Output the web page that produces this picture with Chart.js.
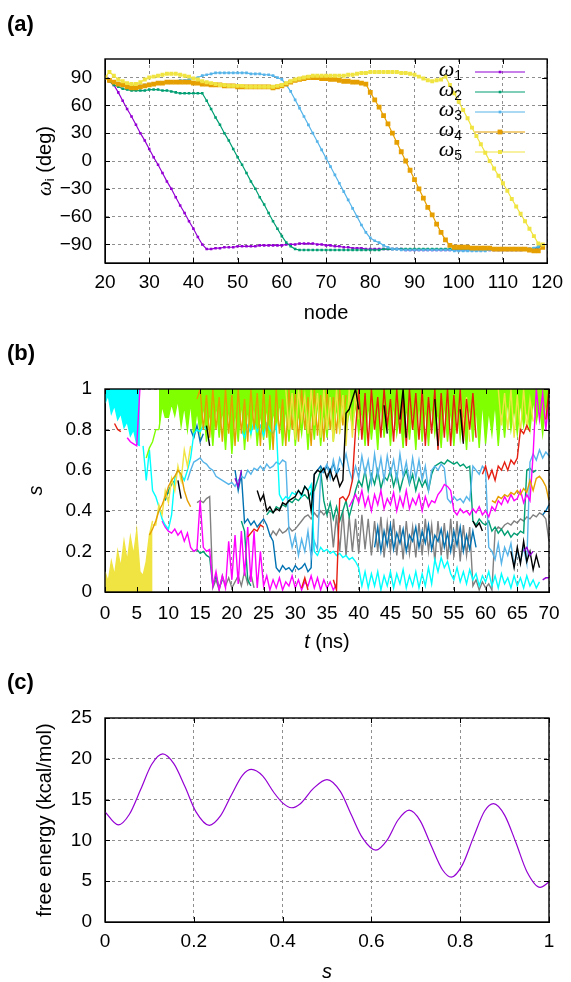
<!DOCTYPE html>
<html>
<head>
<meta charset="utf-8">
<script src="https://cdn.jsdelivr.net/npm/chart.js@4.4.0/dist/chart.umd.min.js"></script>
<style>
  body { margin: 0; background: #fff; }
  #page { position: relative; width: 571px; height: 982px; font-family: 'Liberation Sans', Arial, sans-serif; }
  canvas { position: absolute; left: 0; }
  .tag { position: absolute; left: 7px; font-weight: bold; font-size: 22px; line-height: 26px; }
</style>
</head>
<body>
<div id="page">
  <canvas id="chartA" style="top:0" width="571" height="330"></canvas>
  <canvas id="chartB" style="top:330px" width="571" height="330"></canvas>
  <canvas id="chartC" style="top:660px" width="571" height="322"></canvas>
  <div class="tag" style="top:11px">(a)</div>
  <div class="tag" style="top:340px">(b)</div>
  <div class="tag" style="top:669px">(c)</div>
</div>
<script>
// ---- panel (a): omega_i along the string nodes ----
let nodes = [20,21,22,23,24,25,26,27,28,29, 30,31,32,33,34,35,36,37,38,39,
  40,41,42,43,44,45,46,47,48,49, 50,51,52,53,54,55,56,57,58,59,
  60,61,62,63,64,65,66,67,68,69, 70,71,72,73,74,75,76,77,78,79,
  80,81,82,83,84,85,86,87,88,89, 90,91,92,93,94,95,96,97,98,99,
  100,101,102,103,104,105,106,107,108,109, 110,111,112,113,114,115,116,117,118,119];

let omega1 = [90,86,82,74,65,56,48,39,30,22, 13,4,-4,-13,-22,-30,-39,-48,-56,-65,
  -73,-82,-90,-95,-95,-94,-94,-93,-93,-93, -92,-92,-92,-92,-92,-91,-91,-91,-91,-91,
  -91,-90,-90,-90,-89,-89,-89,-89,-90,-90, -91,-91,-92,-92,-93,-93,-94,-94,-94,-95,
  -95,-95,-95,-95,-95,-95,-95,-95,-96,-96, -96,-96,-96,-96,-96,-96,-96,-96,-96,-96,
  -96,-96,-96,-96,-96,-96,-96,-96,-96,-96, -96,-96,-96,-96,-96,-95,-95,-95,-93,-90];
let omega2 = [90,86,82,80,78,77,76,76,76,76, 77,77,77,76,76,75,74,73,73,73,
  73,73,73,65,56,47,39,30,22,13, 4,-4,-13,-22,-30,-39,-47,-56,-65,-73,
  -81,-88,-92,-95,-96,-96,-96,-96,-96,-96, -96,-96,-96,-96,-96,-96,-96,-96,-96,-96,
  -96,-96,-96,-95,-95,-95,-95,-95,-95,-95, -95,-95,-95,-95,-95,-95,-95,-95,-95,-95,
  -95,-95,-95,-95,-95,-95,-95,-95,-95,-95, -95,-95,-95,-95,-95,-95,-95,-94,-93,-90];
let omega3 = [90,88,86,84,83,82,81,81,81,82, 83,83,84,84,85,85,86,87,87,88,
  89,90,92,93,94,95,95,95,95,95, 95,95,95,94,94,94,93,93,92,90,
  88,82,75,66,57,48,39,30,21,12, 3,-6,-15,-24,-33,-42,-51,-60,-69,-77,
  -83,-86,-88,-91,-93,-95,-95,-96,-96,-96, -96,-96,-96,-96,-96,-96,-96,-96,-96,-97,
  -97,-97,-97,-97,-97,-97,-97,-96,-96,-96, -96,-96,-96,-96,-96,-95,-95,-94,-92,-90];
let omega4 = [90,87,85,83,82,80,79,79,80,81, 82,83,84,84,85,85,85,85,85,85,
  84,84,83,83,82,82,82,81,81,81, 80,80,80,80,80,80,80,80,79,80,
  81,83,85,87,88,89,90,90,90,89, 89,88,88,87,86,86,85,85,84,83,
  74,66,58,49,40,30,20,10,0,-10, -20,-30,-40,-50,-58,-68,-77,-85,-91,-93,
  -93,-93,-93,-94,-94,-94,-94,-94,-95,-95, -95,-95,-95,-95,-95,-95,-96,-97,-97,-93];
let omega5 = [90,96,92,88,86,84,83,83,85,88, 90,91,92,93,94,94,94,93,92,91,
  89,88,86,85,84,83,82,82,81,81, 81,81,80,80,80,80,80,80,80,81,
  82,84,86,88,89,90,91,92,92,92, 92,92,92,92,92,93,93,94,95,95,
  96,96,96,96,96,96,96,95,95,94, 93,91,89,87,86,87,88,91,82,73,
  64,55,46,36,27,18,9,0,-8,-16, -24,-32,-41,-49,-57,-65,-73,-81,-89,-90];
let omegaNames = ['ω1', 'ω2', 'ω3', 'ω4', 'ω5'];
let omegaColors = ['#9400d3', '#009e73', '#56b4e9', '#e69f00', '#f0e442'];
let omegaMarks = [1.8, 1.8, 1.9, 3.4, 2.8];
let nodeTicks = [20,30,40,50,60,70,80,90,100,110,120];
let degTicks = [-90,-60,-30,0,30,60,90];

// ---- panel (b): s of each replica vs time (values past the end of an array are gaps) ----
let timeNs = [0,0.5,1,1.5,2,2.5,3,3.5,4,4.5, 5,5.5,6,6.5,7,7.5,8,8.5,9,9.5,
  10,10.5,11,11.5,12,12.5,13,13.5,14,14.5, 15,15.5,16,16.5,17,17.5,18,18.5,19,19.5,
  20,20.5,21,21.5,22,22.5,23,23.5,24,24.5, 25,25.5,26,26.5,27,27.5,28,28.5,29,29.5,
  30,30.5,31,31.5,32,32.5,33,33.5,34,34.5, 35,35.5,36,36.5,37,37.5,38,38.5,39,39.5,
  40,40.5,41,41.5,42,42.5,43,43.5,44,44.5, 45,45.5,46,46.5,47,47.5,48,48.5,49,49.5,
  50,50.5,51,51.5,52,52.5,53,53.5,54,54.5, 55,55.5,56,56.5,57,57.5,58,58.5,59,59.5,
  60,60.5,61,61.5,62,62.5,63,63.5,64,64.5, 65,65.5,66,66.5,67,67.5,68,68.5,69,69.5, 70];

let sYellowBase = [0.1,0.05,0.15,0.08,0.2,0.12,0.25,0.15,0.27,0.18, 0.3,0.1,0.08,0.15,0.28,0.35];
let sYellowRise = [null,null,null,null,null,null,null,null,null,null,
  null,null,null,null,null,0.33,0.33,0.43,0.38,0.5,
  0.44,0.56,0.5,0.62,0.55,0.7,0.62,0.72];
let sYellowTop = [null,null,null,null,null,null,null,null,null,null,
  null,null,null,null,null,null,null,null,null,null,
  null,null,null,null,null,null,null,null,null,null,
  null,null,null,null,null,null,null,null,null,null,
  null,null,null,null,null,null,null,null,null,null,
  null,null,null,null,null,null,null,1,0.8,0.98,
  0.75,1,0.85,0.97,0.78,1,0.82,0.98,0.76,1,
  0.8,0.96,0.74,1,0.78,0.97,0.72,1,0.76,0.98,
  0.85,null,null,null,null,null,null,null,null,null,
  null,null,null,null,null,null,null,null,null,null,
  null,null,null,null,null,null,null,null,null,null,
  null,null,1,0.8,0.96,0.74,null,null,null,null,
  null,null,null,null,1,0.82,0.98,0.8,1,0.76,
  0.97,0.78,1,0.8,0.95,0.84];
let sOrange = [null,null,null,null,null,null,null,null,null,null,
  null,null,null,null,0.28,0.31,0.35,0.4,0.43,0.47,
  0.52,0.55,0.57,0.6,0.58,0.5,0.45,0.42,null,0.95,
  1,0.8,0.97,0.76,1,0.8,0.96,0.74,1,0.78,
  0.97,0.72,1,0.78,0.95,0.74,1,0.8,0.98,0.72,
  1,0.76,0.97,0.7,1,0.78,0.95,0.72,1,0.8,
  0.98,0.74,1,0.8,0.96,0.72,1,0.77,0.97,0.74,
  1,0.8,0.96,0.78,1,0.82,0.97,null,null,null,
  null,null,null,null,null,null,null,null,null,null,
  null,null,null,null,null,null,null,null,null,null,
  null,null,null,null,null,null,null,null,null,null,
  null,null,null,null,null,null,null,null,null,null,
  null,null,0.45,0.44,0.47,0.46,0.48,0.47,0.49,0.48,
  0.5,0.48,0.51,0.49,0.55,0.5,0.56,0.57,0.55,0.52, 0.45];
let sLimeStrand = [null,null,null,null,null,null,null,null,null,null,
  null,null,null,0.66,0.71,0.74,0.8,0.8];
let sLime = [null,null,null,null,null,null,null,null,null,null,
  null,null,null,null,null,null,null,0.8,0.92,0.86,
  0.86,0.93,0.87,0.95,0.82,0.92,0.8,0.94,0.76,0.9,
  0.78,0.93,0.74,0.9,0.72,0.94,0.76,0.91,0.7,0.93,
  0.68,0.9,0.74,0.95,0.7,0.91,0.78,0.94,0.72,0.89,
  0.75,0.93,0.7,0.9,0.8,0.95,0.72,0.92,0.74,0.94,
  0.72,0.89,0.78,0.93,0.7,0.91,0.75,0.95,0.72,0.9,
  0.76,0.94,0.74,0.92,0.8,0.95,0.78,0.9,0.82,0.93,
  0.78,0.91,0.72,0.94,0.75,0.9,0.7,0.95,0.76,0.92,
  0.72,0.94,0.78,0.89,0.71,0.93,0.75,0.91,0.7,0.95,
  0.74,0.92,0.72,0.94,0.78,0.9,0.71,0.95,0.74,0.91,
  0.72,0.93,0.76,0.9,0.7,0.94,0.74,0.92,0.71,0.95,
  0.73,0.9,0.78,0.94,0.72,0.92,0.76,0.95,0.8,0.91,
  0.78,0.94,0.82,0.9,0.8,0.95,0.84,0.92,0.78,0.94, 0.85];
let sGrey = [null,null,null,null,null,null,null,null,null,null,
  null,null,null,null,null,null,null,null,null,null,
  null,null,null,null,null,null,null,null,null,0.44,
  0.45,0.44,0.46,0.47,0.02,0.06,0.01,0.08,0.03,0.07,
  0.02,0.05,0.08,0.03,0.1,0.04,0.09,0.02,null,null,
  null,null,0.27,0.3,0.28,0.31,0.29,0.3,0.32,0.3,
  0.31,0.33,0.35,0.37,0.38,0.36,0.39,0.37,0.4,0.38,
  0.4,0.39,0.22,0.38,0.2,0.4,0.18,0.37,0.2,0.36,
  0.19,0.38,0.21,0.36,0.18,0.35,0.2,0.37,0.17,0.34,
  0.2,0.36,0.18,0.33,0.16,0.35,0.19,0.32,0.17,0.34,
  0.18,0.36,0.2,0.33,0.15,0.35,0.18,0.34,0.16,0.36,
  0.17,0.35,0.15,0.33,0.18,0.32,0.03,0.06,0.01,0.05,
  0.02,0.04,0.01,0.3,0.32,0.31,0.33,0.34,0.33,0.35,
  0.34,0.36,0.35,0.37,0.36,0.38,0.37,0.39,0.38,0.36, 0.25];
let sDarkBlue = [null,null,null,null,null,null,null,null,null,null,
  null,null,null,null,null,null,null,null,null,null,
  null,null,null,null,null,null,null,0.8,0.76,0.82,
  0.74,0.78,null,null,null,null,null,null,null,null,
  null,0.6,0.5,0.58,0.34,0.36,0.33,0.35,0.32,0.34,
  0.36,0.33,0.28,0.25,0.12,0.1,0.13,0.11,0.12,0.1,
  0.13,0.11,0.12,0.14,0.1,0.12,0.58,0.6,0.62,0.59,
  0.62,0.6,0.63,0.58,0.61,null,null,null,null,null,
  null,null,null,null,null,0.22,0.32,0.2,0.3,0.23,
  0.33,0.21,0.29,0.24,0.31,0.2,0.28,0.25,0.32,0.22,
  0.3,0.24,0.33,0.21,0.28,0.25,0.31,0.22,0.29,0.2,
  0.3,0.23,0.32,0.2,0.28,0.21,0.3,0.22,null,null,
  null,null,null,null,null,null,null,null,null,null,
  null,null,null,null,null,null,null,null,0.38,0.4, 0.43];
let sTeal = [null,null,null,null,null,null,null,null,null,null,
  null,null,null,null,null,null,null,null,null,0.45,
  0.5,0.53,0.55,null,null,null,null,null,0.2,0.21,
  0.19,0.2,0.18,0.17,0.03,0.08,0.02,0.06,null,null,
  null,null,null,0.35,0.3,0.06,0.03,null,null,null,
  null,0.38,0.4,0.39,0.42,0.41,0.43,0.42,0.45,0.44,
  0.46,0.45,0.47,0.48,0.46,0.49,0.5,0.55,0.6,0.45,
  0.38,0.44,0.36,0.42,0.35,0.4,0.45,0.37,0.43,0.5,
  0.55,0.52,0.6,0.5,0.58,0.53,0.6,0.51,0.57,0.55,
  0.6,0.52,0.58,0.5,0.56,0.6,0.53,0.58,0.5,0.56,
  0.52,0.55,0.5,0.58,0.62,0.63,0.64,0.63,0.65,0.64,
  0.63,0.64,0.62,0.63,0.61,0.62,0.35,0.33,0.36,0.34,
  0.33,0.35,0.3,0.32,0.29,0.31,0.28,0.3,0.27,0.29,
  0.28,0.3,0.29,0.6,0.61,0.59,0.6];
let sLightBlue = [null,null,null,null,null,null,null,null,null,null,
  null,null,null,null,null,null,null,null,null,null,
  null,null,null,null,null,null,0.55,0.6,0.64,0.65,
  0.66,0.64,0.63,0.61,0.6,0.57,0.56,0.55,0.54,0.53,
  0.54,0.52,0.55,0.57,0.56,0.6,0.58,0.61,0.6,0.62,
  0.6,0.63,0.61,0.62,0.64,0.63,0.65,0.64,0.3,0.22,
  0.28,0.18,0.26,0.2,0.3,0.17,0.25,0.21,0.58,0.6,
  0.63,0.56,0.65,0.58,0.66,0.62,0.68,0.6,0.55,0.62,
  0.56,0.67,0.58,0.65,0.54,0.68,0.57,0.66,0.55,0.67,
  0.58,0.65,0.55,0.68,0.57,0.64,0.54,0.66,0.56,0.65,
  0.55,0.62,0.5,0.6,0.62,0.6,0.63,0.61,0.46,0.44,
  0.47,0.45,0.46,0.44,0.47,0.45,0.62,0.6,0.58,0.62,
  0.6,0.22,0.2,0.16,0.24,0.14,0.22,0.18,0.24,0.13,
  0.2,0.15,0.22,0.14,0.64,0.68,0.65,0.7,0.66,0.69, 0.67];
let sMagenta = [null,null,null,null,null,null,null,0.76,0.74,0.73,
  0.72,1,null,null,null,null,null,null,0.35,0.32,
  0.3,0.29,0.31,0.28,0.3,0.25,0.29,0.22,0.2,0.21,
  0.45,0.22,0.2,0.21,0.03,0.1,0.01,0.08,0.02,0.25,
  0.06,0.28,0.04,0.3,0.08,0.32,0.05,0.3,0.02,0.2,
  0.03,0.08,0.01,0.06,0.02,0.07,0.01,0.05,0.03,0.08,
  0.02,0.06,0.01,0.05,0.03,0.08,0.02,0.07,0.01,0.06,
  0.02,0.05,0.01,0.04,null,null,null,0.42,0.45,0.48,
  0.44,0.5,0.42,0.47,0.4,0.48,0.43,0.5,0.41,0.46,
  0.43,0.49,0.4,0.47,0.42,0.5,0.41,0.46,0.43,0.48,
  0.4,0.47,0.42,0.45,0.44,0.48,0.5,0.53,0.52,0.5,
  0.4,0.38,0.41,0.39,0.4,0.38,0.41,0.39,0.42,0.38,
  0.4,0.37,0.42,0.4,0.45,0.43,0.47,0.44,0.48,0.45,
  0.46,0.5,0.44,0.48,0.45,0.68,1,0.85,0.98,0.8, 0.95];
let sCyanTop = [0.93,0.97,0.88,0.92,0.85,0.88,0.81,0.84,0.77,0.8, 0.73,0.72];
let sCyan = [null,null,null,null,null,null,null,null,null,null,
  null,null,0.72,0.55,0.7,0.5,0.47,0.42,0.36,0.33,
  0.31,0.38,0.56,0.6,0.58,0.55,0.6,0.66,0.78,0.8,
  0.79,0.82,0.8,null,null,null,null,null,null,null,
  null,null,null,0.8,0.76,0.82,0.78,0.84,0.79,0.82,
  0.77,0.83,0.8,0.78,0.82,0.48,0.45,0.47,0.46,0.49,
  0.48,0.5,0.47,0.52,0.5,0.53,0.2,0.18,0.22,0.2,
  0.21,0.19,0.2,0.18,0.19,0.17,0.18,0.16,0.17,0.15,
  0.12,0.03,0.1,0.02,0.09,0.03,0.1,0.01,0.08,0.03,
  0.1,0.02,0.09,0.04,0.11,0.02,0.08,0.03,0.1,0.02,
  0.09,0.03,0.12,0.04,0.16,0.1,0.17,0.12,0.15,0.09,
  0.06,0.12,0.05,0.1,0.04,0.11,0.06,0.09,0.03,0.08,
  0.05,0.1,0.03,0.08,0.02,0.09,0.04,0.07,0.02,0.08,
  0.03,0.07,0.02,0.08,0.03,0.06,0.02,0.05];
let sRed = [null,null,null,0.83,0.8,0.79,null,null,null,null,
  null,null,null,null,null,null,null,null,null,null,
  null,null,null,null,null,null,null,null,null,null,
  null,null,null,null,null,null,null,null,null,null,
  null,null,null,null,null,0.27,0.29,0.31,0.3,0.33,
  0.32,null,null,null,null,null,null,null,null,null,
  null,null,0.02,0.07,0.01,null,null,null,null,null,
  null,null,0.06,0.01,0.46,0.47,0.45,0.48,0.55,0.8,
  1,0.75,0.98,0.72,1,0.8,0.96,0.76,1,0.82,
  0.95,0.74,1,0.78,0.97,0.72,1,0.8,0.98,0.75,
  1,0.72,0.96,0.78,1,0.7,0.98,0.76,1,0.72,
  0.97,0.78,1,0.74,0.95,0.8,0.98,0.76,null,0.58,
  0.62,0.56,0.6,0.55,0.62,0.6,0.64,0.6,0.65,0.63,
  0.66,0.8,0.78,0.82,0.79,null,null,null,null,0.85, 1];
let sBlack = [null,null,null,null,null,null,null,null,null,null,
  null,null,null,null,null,null,null,null,null,null,
  null,null,null,0.55,0.46,null,null,null,null,null,
  null,null,0.82,0.72,null,null,null,null,null,null,
  null,null,null,null,null,null,null,null,0.5,0.45,
  0.48,0.4,0.42,0.39,0.41,0.4,0.44,0.43,0.45,0.46,
  0.47,0.5,0.48,0.52,0.5,0.4,0.58,0.6,0.59,0.61,
  0.56,0.6,0.55,0.58,0.52,0.55,0.88,0.9,0.95,1,
  0.9,null,null,null,null,null,null,null,0.92,0.78,
  null,null,null,0.85,1,0.76,null,null,null,null,
  null,null,null,null,0.95,0.72,null,null,null,null,
  null,null,0.9,0.73,null,null,0.35,0.32,0.34,0.3,
  null,null,null,null,null,null,null,null,0.2,0.12,
  0.22,0.14,0.25,0.15,0.2,0.11,0.18,0.12];
let sPurple = [null,null,null,null,null,null,null,null,null,null,
  null,null,null,null,null,null,null,null,null,null,
  null,null,null,null,null,null,null,null,null,null,
  null,null,null,null,null,null,null,null,null,null,
  null,0.56,0.52,0.6,null,null,null,null,null,null,
  null,null,null,null,null,null,null,null,null,null,
  null,null,null,null,null,null,null,null,null,null,
  null,null,null,null,null,null,null,null,null,null,
  null,null,null,null,null,null,null,null,null,null,
  null,null,null,null,null,null,null,null,null,null,
  null,null,null,null,null,null,null,null,null,null,
  null,null,null,null,null,null,null,null,null,null,
  null,null,null,null,null,null,null,null,null,null,
  null,null,0.2,0.22,0.18,0.2,null,null,0.06,0.07, 0.07];
let timeTicks = [0,5,10,15,20,25,30,35,40,45,50,55,60,65,70];
let sTicks = [0,0.2,0.4,0.6,0.8,1];

// ---- panel (c): free energy profile along s ----
let feS = [0,0.03,0.055,0.08,0.105,0.13,0.155,0.18,0.205,0.235,0.26,0.285,0.31,0.33,0.355,0.38,0.4,0.42,0.44,0.47,
  0.5,0.53,0.555,0.58,0.61,0.635,0.66,0.685,0.71,0.735,0.76,0.78,0.805,0.83,0.855,0.875,0.9,0.925,0.95,0.98,1];
let feKcal = [13.5,11.9,13.2,16.2,19.3,20.6,19.4,16.6,13.5,11.85,13.0,15.6,18.0,18.7,17.9,15.9,14.6,14.0,14.5,16.4,
  17.45,16.0,13.1,10.3,8.8,10.0,12.5,13.7,12.4,9.3,6.4,5.5,7.0,10.4,13.6,14.5,13.1,9.8,6.2,4.25,4.9];
let feTicks = [0,5,10,15,20,25];
let sAxisTicks = [0,0.2,0.4,0.6,0.8,1];

let fam = "'Liberation Sans', Arial, sans-serif";
Chart.defaults.font.family = fam;
Chart.defaults.font.size = 19;
Chart.defaults.color = '#000';
let gridColor = '#8f8f8f';
let titleFont = '20px ' + fam;
let titleItalic = 'italic 20px ' + fam;

let fmt = v => String(v).replace('-', '\u2212');

function drawRuns(ctx, runs, x, y, rot, align) {
    ctx.save();
    ctx.translate(x, y);
    if (rot) ctx.rotate(rot);
    ctx.fillStyle = '#000';
    ctx.textBaseline = 'middle';
    ctx.textAlign = 'left';
    let w = 0;
    runs.forEach(r => { ctx.font = r.font; w += ctx.measureText(r.text).width; });
    let cx = align === 'right' ? -w : -w / 2;
    runs.forEach(r => {
        ctx.font = r.font;
        ctx.fillText(r.text, cx, r.dy || 0);
        cx += ctx.measureText(r.text).width;
    });
    ctx.restore();
}

// gnuplot look: closed frame, inward ticks, own axis titles and key
let decor = {
    id: 'decor',
    afterDatasetsDraw(chart, args, opts) {
        let ctx = chart.ctx;
        let a = chart.chartArea;
        let sx = chart.scales.x, sy = chart.scales.y;
        ctx.save();
        ctx.strokeStyle = '#000';
        ctx.lineWidth = 1;
        ctx.beginPath();
        sx.ticks.forEach(t => {
            let px = Math.round(sx.getPixelForValue(t.value)) + 0.5;
            ctx.moveTo(px, a.bottom); ctx.lineTo(px, a.bottom - 5);
            ctx.moveTo(px, a.top); ctx.lineTo(px, a.top + 5);
        });
        sy.ticks.forEach(t => {
            let py = Math.round(sy.getPixelForValue(t.value)) + 0.5;
            ctx.moveTo(a.left, py); ctx.lineTo(a.left + 5, py);
            ctx.moveTo(a.right, py); ctx.lineTo(a.right - 5, py);
        });
        ctx.stroke();
        ctx.lineWidth = 1.4;
        ctx.strokeRect(a.left, a.top, a.right - a.left, a.bottom - a.top);

        if (opts.legend) {
            chart.data.datasets.forEach((ds, i) => {
                let yy = 72 + i * 20;
                drawRuns(ctx, [
                    { text: 'ω', font: "italic 22px 'Liberation Serif', serif" },
                    { text: ds.label.slice(1), font: '14px ' + fam, dy: 6 }
                ], 462, yy - 2, 0, 'right');
                ctx.strokeStyle = ds.borderColor;
                ctx.lineWidth = 1.2;
                ctx.beginPath();
                ctx.moveTo(475, yy); ctx.lineTo(525, yy);
                ctx.stroke();
                let r = ds.pointRadius * Math.SQRT1_2;
                ctx.fillStyle = ds.borderColor;
                ctx.fillRect(500 - r, yy - r, 2 * r, 2 * r);
            });
        }
        drawRuns(ctx, opts.xTitle, (a.left + a.right) / 2, opts.xTitleY, 0, 'center');
        drawRuns(ctx, opts.yTitle, opts.yTitleX, (a.top + a.bottom) / 2, -Math.PI / 2, 'center');
        ctx.restore();
    }
};
Chart.register(decor);

function xScale(min, max, tickVals, pad, height) {
    return {
        type: 'linear', min: min, max: max,
        afterBuildTicks: s => { s.ticks = tickVals.map(v => ({ value: v })); },
        afterFit: s => { s.height = height; },
        ticks: { padding: pad, autoSkip: false, maxRotation: 0, callback: fmt },
        grid: { color: gridColor, drawTicks: false },
        border: { display: true, color: '#000', dash: [3, 3] }
    };
}
function yScale(min, max, tickVals) {
    return {
        type: 'linear', min: min, max: max,
        afterBuildTicks: s => { s.ticks = tickVals.map(v => ({ value: v })); },
        afterFit: s => { s.width = 105; },
        ticks: { padding: 13, autoSkip: false, callback: fmt },
        grid: { color: gridColor, drawTicks: false },
        border: { display: true, color: '#000', dash: [3, 3] }
    };
}
function baseOptions(pad, scales, decorOpts) {
    return {
        responsive: false,
        animation: false,
        devicePixelRatio: 1,
        layout: { padding: pad },
        scales: scales,
        plugins: { legend: { display: false }, tooltip: { enabled: false }, decor: decorOpts }
    };
}

// (a)
let omegaSeries = [omega1, omega2, omega3, omega4, omega5];
new Chart(document.getElementById('chartA'), {
    type: 'line',
    data: {
        datasets: omegaSeries.map((vals, i) => ({
            label: omegaNames[i],
            data: nodes.map((n, j) => ({ x: n, y: vals[j] })),
            borderColor: omegaColors[i],
            backgroundColor: omegaColors[i],
            borderWidth: 1.2,
            pointStyle: 'rect',
            pointRadius: omegaMarks[i],
            pointBorderWidth: 0,
            pointBackgroundColor: omegaColors[i],
            order: 4 - i
        }))
    },
    options: baseOptions({ left: 0, right: 22, top: 59, bottom: 0 }, {
        x: xScale(20, 120, nodeTicks, 8, 67),
        y: yScale(-110, 110, degTicks)
    }, {
        legend: true,
        xTitle: [{ text: 'node', font: titleFont }], xTitleY: 313,
        yTitle: [
            { text: 'ω', font: "italic 21px 'Liberation Serif', serif" },
            { text: 'i', font: '13px ' + fam, dy: 5 },
            { text: ' (deg)', font: titleFont }
        ], yTitleX: 45
    })
});

// (b) -- listed bottom to top: [values, colour, fill]
let replicaSeries = [
    [sYellowBase, '#f0e442', 'origin'], [sLime, '#80ff00', 'end'], [sCyanTop, '#00ffff', 'end'],
    [sGrey, '#808080', false], [sDarkBlue, '#0072b2', false], [sTeal, '#009e73', false],
    [sLightBlue, '#56b4e9', false], [sMagenta, '#ff00ff', false], [sCyan, '#00ffff', false],
    [sLimeStrand, '#80ff00', false], [sYellowRise, '#f0e442', false], [sOrange, '#e69f00', false],
    [sYellowTop, '#f0e442', false], [sRed, '#e51e10', false], [sBlack, '#000000', false],
    [sPurple, '#9400d3', false]
];
new Chart(document.getElementById('chartB'), {
    type: 'line',
    data: {
        datasets: replicaSeries.map((r, i) => ({
            data: timeNs.map((t, j) => ({ x: t, y: r[0][j] ?? null })),
            borderColor: r[1],
            backgroundColor: r[1],
            fill: r[2],
            borderWidth: 1.4,
            pointRadius: 0,
            spanGaps: false,
            order: replicaSeries.length - 1 - i
        }))
    },
    options: baseOptions({ left: 0, right: 22, top: 59, bottom: 0 }, {
        x: xScale(0, 70, timeTicks, 10, 68),
        y: yScale(0, 1, sTicks)
    }, {
        xTitle: [{ text: 't', font: titleItalic }, { text: ' (ns)', font: titleFont }], xTitleY: 312,
        yTitle: [{ text: 's', font: titleItalic }], yTitleX: 36
    })
});

// (c)
new Chart(document.getElementById('chartC'), {
    type: 'line',
    data: {
        datasets: [{
            data: feS.map((s, j) => ({ x: s, y: feKcal[j] })),
            borderColor: '#9400d3',
            borderWidth: 1.2,
            pointRadius: 0,
            cubicInterpolationMode: 'monotone'
        }]
    },
    options: baseOptions({ left: 0, right: 22, top: 58, bottom: 0 }, {
        x: xScale(0, 1, sAxisTicks, 8, 60),
        y: yScale(0, 25, feTicks)
    }, {
        xTitle: [{ text: 's', font: titleItalic }], xTitleY: 312,
        yTitle: [{ text: 'free energy (kcal/mol)', font: titleFont }], yTitleX: 45
    })
});
</script>
</body>
</html>
